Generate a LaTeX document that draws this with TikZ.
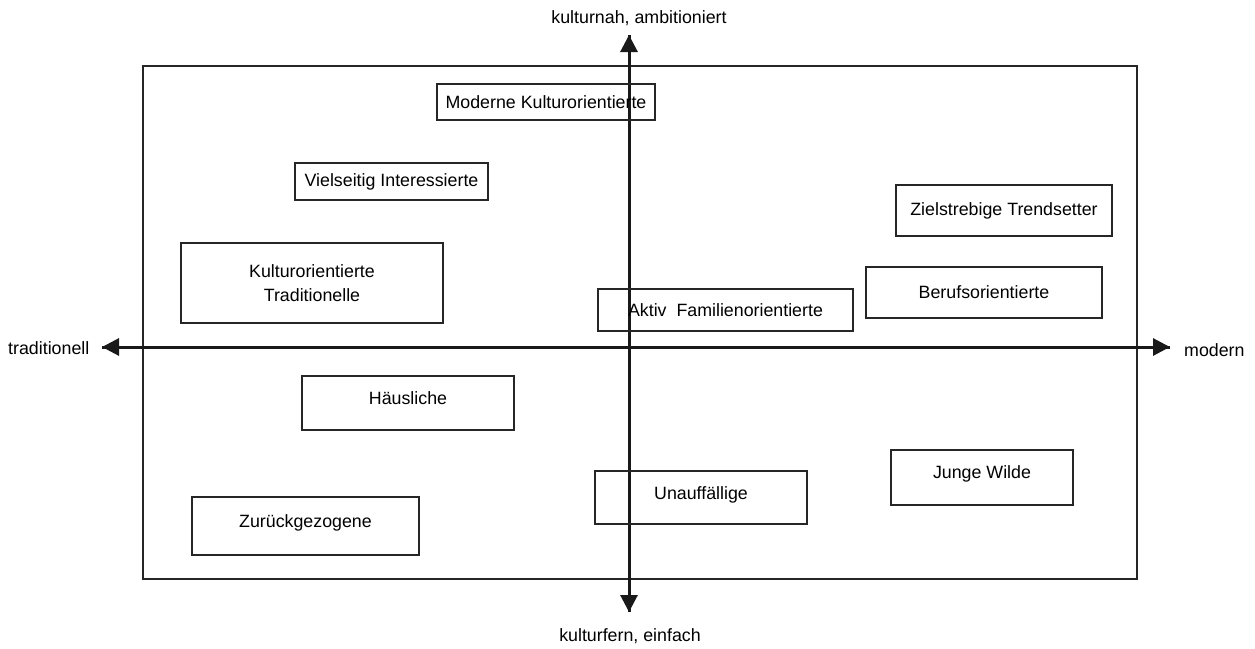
\documentclass[tikz,border=0pt]{standalone}
\usepackage{fontspec}
\setmainfont{Liberation Sans}
\usetikzlibrary{arrows.meta}
\begin{document}
\begin{tikzpicture}[x=1pt,y=-1pt,
  every node/.style={font=\fontsize{17.8}{21}\selectfont, text=black},
  seg/.style={draw=black!85, line width=2pt, align=center, inner sep=0pt},
  axis/.style={draw=black!90, line width=3pt, -{Triangle[length=17pt,width=17pt]}},
  lbl/.style={inner sep=0pt}]
\useasboundingbox (0,0) rectangle (1255,648);
% frame
\node[draw=black!85, line width=2pt, minimum width=994pt, minimum height=513pt, inner sep=0pt] (frame) at (640,322.5) {};
% axes
\coordinate (L) at (102,347);
\coordinate (R) at (1170,347);
\coordinate (T) at (629,35);
\coordinate (B) at (629,612);
\draw[axis] (R) -- (L);
\draw[axis] (L) -- (R);
\draw[axis] (B) -- (T);
\draw[axis] (T) -- (B);
% axis labels
\node[lbl] (top) at (639,18) {kulturnah, ambitioniert};
\node[lbl] (bot) at (630,636) {kulturfern, einfach};
\node[lbl, anchor=west] (trad) at (8,348) {traditionell};
\node[lbl, anchor=west] (mod) at (1184,350) {modern};
% segments
\node[seg, minimum width=218pt, minimum height=36pt] (mk) at (546,102) {Moderne Kulturorientierte};
\node[seg, minimum width=193pt, minimum height=37pt] (vi) at (391.5,181.5) {Vielseitig Interessierte};
\node[seg, minimum width=262pt, minimum height=80pt] (kt) at (312,283) {Kulturorientierte\\[3pt]Traditionelle};
\node[seg, minimum width=255pt, minimum height=42pt] (af) at (725.5,310) {Aktiv\ \ Familienorientierte};
\node[seg, minimum width=216pt, minimum height=51pt] (zt) at (1004,210.5) {Zielstrebige Trendsetter};
\node[seg, minimum width=236pt, minimum height=51pt] (bo) at (984,292.5) {Berufsorientierte};
\node[seg, minimum width=212pt, minimum height=54pt, text depth=10pt] (hl) at (408,403) {Häusliche};
\node[seg, minimum width=227pt, minimum height=58pt, text depth=9pt] (zg) at (305.5,526) {Zurückgezogene};
\node[seg, minimum width=212pt, minimum height=53pt, text depth=8pt] (ua) at (701,497.5) {Unauffällige};
\node[seg, minimum width=182pt, minimum height=55pt, text depth=10pt] (jw) at (982,477.5) {Junge Wilde};
\end{tikzpicture}
\end{document}
